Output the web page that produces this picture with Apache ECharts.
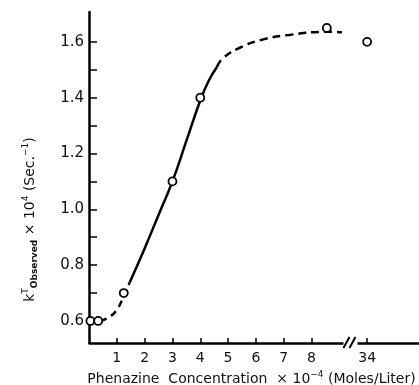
<!DOCTYPE html>
<html>
<head>
<meta charset="utf-8">
<script src="https://cdn.jsdelivr.net/npm/echarts@6.0.0/dist/echarts.min.js"></script>
<style>
  html, body { margin: 0; padding: 0; background: #fff; }
  #echarts { width: 419px; height: 385px; }
</style>
</head>
<body>
<div id="echarts"></div>
<script>
// measured points (concentration x 10^-4 M, k x 10^4 s^-1)
var observed = [[0.05, 0.6], [0.33, 0.6], [1.25, 0.7], [3.0, 1.1], [4.0, 1.4], [8.55, 1.65], [34, 1.6]];
// hand-drawn fit curve, split in the dashed / solid / dashed parts
var curveLow = [[0.4, 0.6], [0.7, 0.612], [1.0, 0.64], [1.25, 0.69], [1.45, 0.735]];
var curveMid = [[1.45, 0.735], [2.0, 0.86], [2.5, 0.98], [3.0, 1.1], [3.5, 1.245], [4.0, 1.39], [4.3, 1.46], [4.6, 1.51]];
var curveHigh = [[4.6, 1.51], [4.8, 1.54], [5.4, 1.578], [6.2, 1.607], [7.2, 1.625], [8.6, 1.636], [9.1, 1.634]];
var xTicks = [1, 2, 3, 4, 5, 6, 7, 8, 34];
var yTicks = [0.6, 0.7, 0.8, 0.9, 1.0, 1.1, 1.2, 1.3, 1.4, 1.5, 1.6];
var yLabels = [0.6, 0.8, 1.0, 1.2, 1.4, 1.6];
var xBreak = { start: 9.3, end: 33.5, gap: 0.2 };

var myChart = echarts.init(document.getElementById('echarts'));
var font = 'DejaVu Sans';
var lineStyle = { color: '#000', width: 2.5 };

var option = {
    animation: false,
    grid: { left: 89, top: 12, width: 331, height: 331, outerBoundsMode: 'none', containLabel: false },
    xAxis: {
        type: 'value',
        min: 0,
        max: 35.9,
        breaks: [xBreak],
        breakArea: { itemStyle: { opacity: 0, borderWidth: 0, borderColor: 'transparent', color: 'transparent' } },
        splitLine: { show: false },
        axisLine: { lineStyle: { color: '#000', width: 2.5 } },
        axisTick: { inside: true, length: 5, customValues: xTicks, lineStyle: { color: '#000', width: 1.5 } },
        axisLabel: { customValues: xTicks, margin: 8, color: '#111', fontFamily: font, fontSize: 14 },
        name: 'Phenazine  Concentration  × 10{sup|−4} (Moles/Liter)',
        nameLocation: 'middle',
        nameGap: 26,
        nameTextStyle: {
            color: '#111', fontFamily: font, fontSize: 14, lineHeight: 18, padding: [0, 6, 0, 0],
            rich: { sup: { fontSize: 9, fontFamily: font, color: '#111', verticalAlign: 'top', lineHeight: 9 } }
        }
    },
    yAxis: {
        type: 'value',
        min: 0.521,
        max: 1.707,
        splitLine: { show: false },
        axisLine: { lineStyle: { color: '#000', width: 2.5 } },
        axisTick: { inside: true, length: 8, customValues: yTicks, lineStyle: { color: '#000', width: 1.5 } },
        axisLabel: {
            customValues: yLabels, margin: 5, color: '#111', fontFamily: font, fontSize: 15,
            formatter: function (v) { return v.toFixed(1); }
        },
        name: 'k{sup|T}{sub|Observed} × 10{sup|4} (Sec.{sup|−1})',
        nameLocation: 'middle',
        nameGap: 50,
        nameTextStyle: {
            color: '#111', fontFamily: font, fontSize: 14, lineHeight: 18, padding: [0, 84, 0, 0],
            rich: {
                sup: { fontSize: 9, fontFamily: font, color: '#111', verticalAlign: 'top', lineHeight: 9 },
                sub: { fontSize: 9, fontFamily: font, fontWeight: 'bold', color: '#111', verticalAlign: 'bottom', lineHeight: 8 }
            }
        }
    },
    series: [
        { type: 'line', data: curveLow, smooth: true, showSymbol: false, lineStyle: Object.assign({ type: [7, 5] }, lineStyle) },
        { type: 'line', data: curveMid, smooth: true, showSymbol: false, lineStyle: lineStyle },
        { type: 'line', data: curveHigh, smooth: true, showSymbol: false, lineStyle: Object.assign({ type: [8, 5] }, lineStyle) },
        {
            type: 'scatter', data: observed, symbol: 'circle', symbolSize: 8, z: 5,
            itemStyle: { color: '#fff', opacity: 1, borderColor: '#000', borderWidth: 1.8 }
        }
    ]
};
myChart.setOption(option);

// "//" axis-break mark, placed through the axis scale
var bx = myChart.convertToPixel({ xAxisIndex: 0 }, (xBreak.start + xBreak.end) / 2);
var by = myChart.convertToPixel({ yAxisIndex: 0 }, 0.521);
myChart.setOption({
    graphic: [
        { type: 'rect', shape: { x: bx - 7, y: by - 3, width: 14, height: 6 }, style: { fill: '#fff' }, z: 10 },
        { type: 'line', shape: { x1: bx - 7, y1: by + 5, x2: bx - 1, y2: by - 6 }, style: { stroke: '#000', lineWidth: 2 }, z: 11 },
        { type: 'line', shape: { x1: bx - 1, y1: by + 5, x2: bx + 5, y2: by - 6 }, style: { stroke: '#000', lineWidth: 2 }, z: 11 }
    ]
});
</script>
</body>
</html>
